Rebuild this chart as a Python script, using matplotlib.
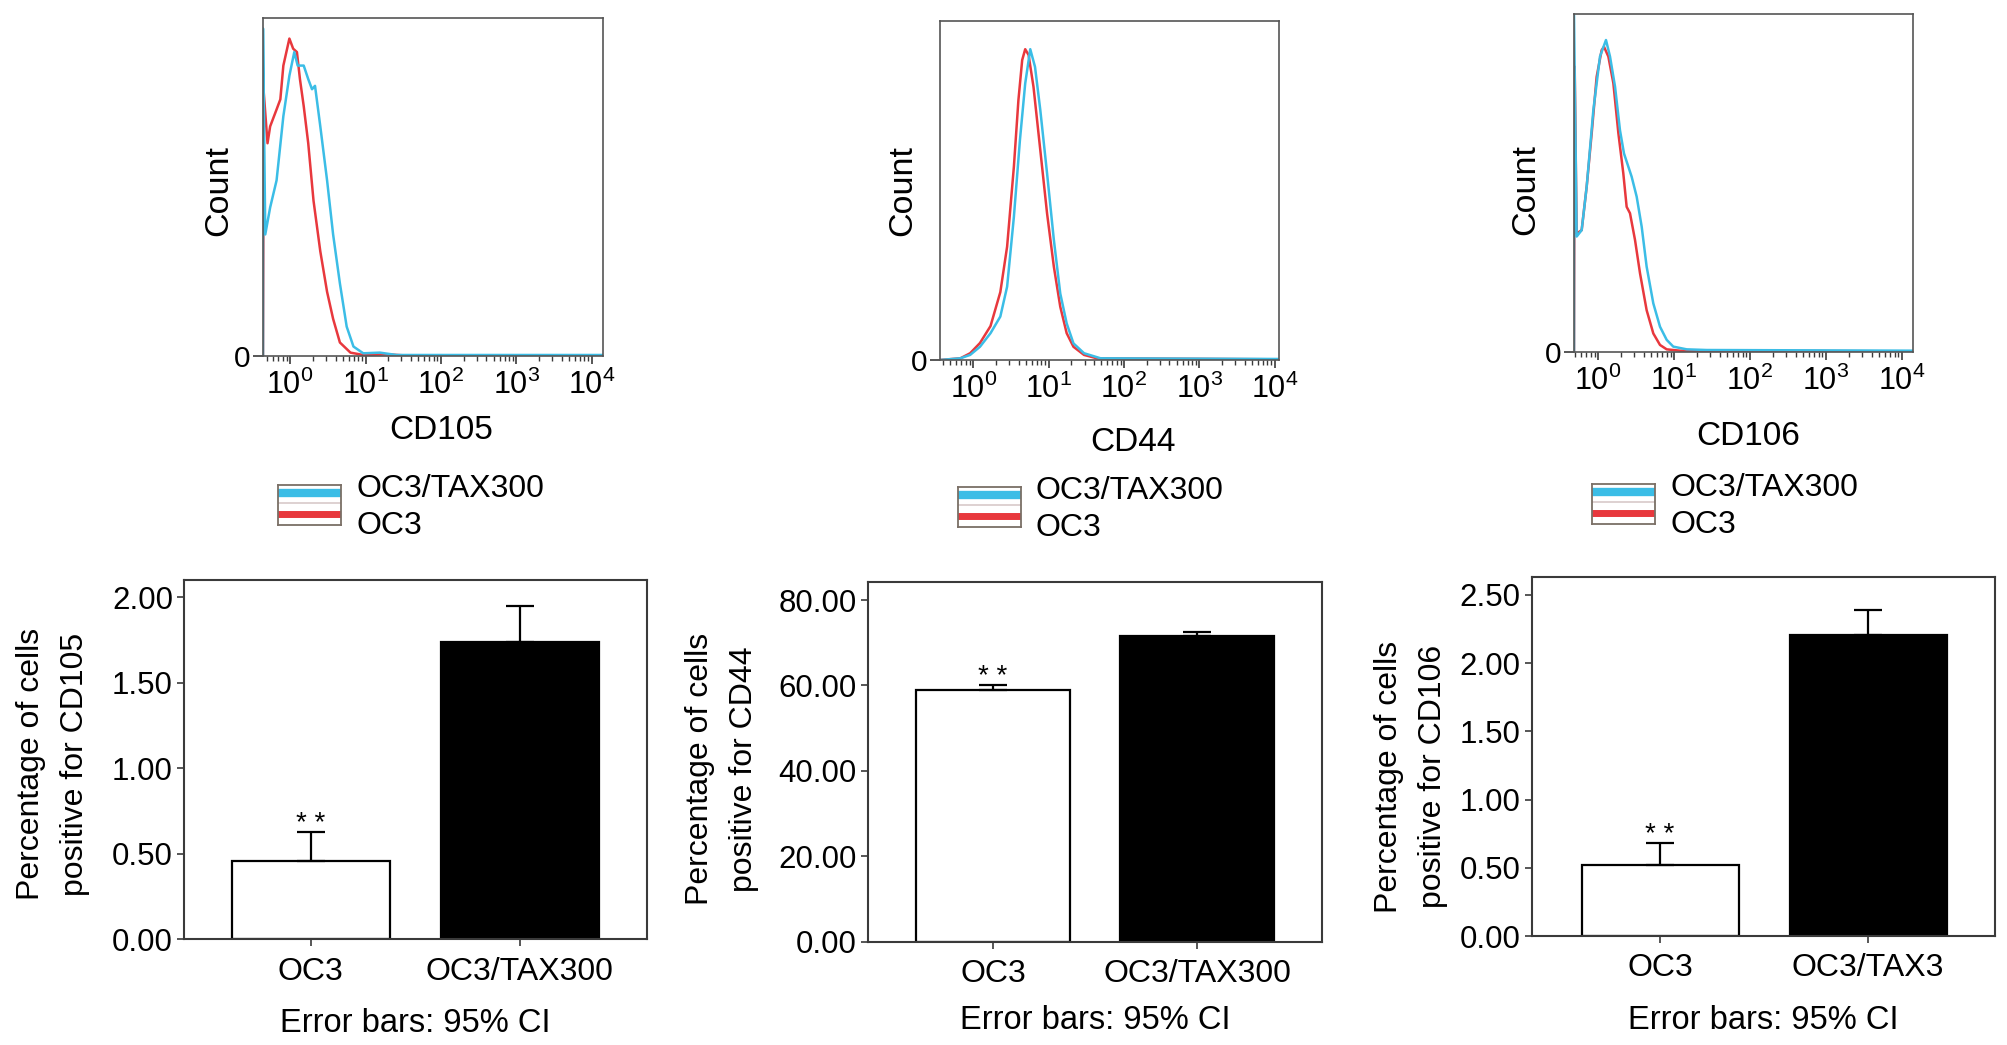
import numpy as np
import matplotlib
matplotlib.use("Agg")
import matplotlib.pyplot as plt
from matplotlib.ticker import FixedLocator, LogLocator, NullFormatter, LogFormatterMathtext, FormatStrFormatter

plt.rcParams['font.family'] = ['Liberation Sans', 'DejaVu Sans']
plt.rcParams['mathtext.fontset'] = 'custom'
plt.rcParams['mathtext.rm'] = 'Liberation Sans'
plt.rcParams['mathtext.it'] = 'Liberation Sans:italic'
plt.rcParams['mathtext.bf'] = 'Liberation Sans:bold'

# ---------------- data: flow histograms (log10 intensity, count as % of axis max) -------------
cd105_oc3_log = [-0.36, -0.35, -0.30, -0.265, -0.18, -0.13, -0.09, -0.04, -0.01, 0.04, 0.09, 0.13,
                 0.18, 0.24, 0.31, 0.40, 0.49, 0.57, 0.66, 0.80, 0.97, 1.28, 1.50, 4.15]
cd105_oc3_cnt = [0, 78, 63, 68, 73, 76, 86, 91, 94, 91, 90, 82,
                 74, 63, 46, 31, 19, 11, 4, 1.0, 0.3, 0.5, 0.2, 0.2]
cd105_tax_log = [-0.36, -0.36, -0.33, -0.265, -0.18, -0.09, -0.01, 0.055, 0.10, 0.18, 0.24, 0.29,
                 0.33, 0.40, 0.49, 0.57, 0.66, 0.75, 0.84, 0.97, 1.19, 1.41, 4.15]
cd105_tax_cnt = [0, 97, 36, 44, 52, 71, 83, 90, 86, 86, 82, 79,
                 80, 68, 52, 36, 21.5, 8.7, 2.8, 0.8, 1.0, 0.3, 0.3]

cd44_oc3_log = [-0.44, -0.17, -0.04, 0.09, 0.23, 0.36, 0.45, 0.54, 0.60, 0.65, 0.69, 0.735,
                0.80, 0.89, 0.98, 1.07, 1.155, 1.24, 1.33, 1.47, 1.64, 4.06]
cd44_oc3_cnt = [0, 0.5, 2, 5, 10, 20, 33.4, 57, 76.6, 88.4, 91.6, 89.9,
                80.5, 61.9, 43.2, 27.5, 15.7, 7.9, 3.9, 1.5, 0.5, 0.2]
cd44_tax_log = [-0.44, -0.17, -0.04, 0.09, 0.23, 0.36, 0.45, 0.54, 0.62, 0.69, 0.757, 0.82,
                0.89, 0.98, 1.07, 1.155, 1.24, 1.33, 1.47, 1.69, 4.06]
cd44_tax_cnt = [0, 0.5, 1.5, 3.9, 7.9, 12.8, 21.6, 42.2, 64.8, 81.5, 91.6, 86.4,
                73.7, 55, 35.4, 19.6, 10.8, 4.9, 2.0, 0.5, 0.3]

cd106_oc3_log = [-0.316, -0.307, -0.281, -0.215, -0.149, -0.083, -0.018, 0.048, 0.079, 0.136, 0.202,
                 0.268, 0.333, 0.377, 0.421, 0.487, 0.553, 0.64, 0.728, 0.816, 0.904, 1.08, 1.34, 4.15]
cd106_oc3_cnt = [0, 84.4, 35, 36, 48.9, 64.7, 81.4, 89.3, 90.3, 87.4, 79.5,
                 64.7, 52.8, 42.9, 41, 33.1, 23.2, 12.3, 5.4, 2.0, 0.7, 0.3, 0.3, 0.1]
cd106_tax_log = [-0.316, -0.316, -0.281, -0.215, -0.149, -0.061, 0.026, 0.105, 0.158, 0.224, 0.289,
                 0.342, 0.443, 0.509, 0.575, 0.64, 0.728, 0.816, 0.904, 0.991, 1.167, 1.43, 4.15]
cd106_tax_cnt = [0, 99.7, 34.1, 36, 48.9, 71.6, 87.4, 92.3, 87.4, 78.5, 65.6,
                 58.7, 51.8, 45.9, 37, 25.2, 14.3, 7.4, 3.5, 1.5, 0.7, 0.5, 0.3]

decade_ticks = [1, 10, 100, 1000, 10000]
legend_labels = ['OC3/TAX300', 'OC3']

# ---------------- data: bar charts -------------
cats_a = ['OC3', 'OC3/TAX300']
cats_b = ['OC3', 'OC3/TAX3']
cd105_means = [0.457, 1.737]
cd105_ci_upper = [0.628, 1.95]
cd44_means = [58.9, 71.7]
cd44_ci_upper = [60.1, 72.6]
cd106_means = [0.52, 2.21]
cd106_ci_upper = [0.684, 2.39]
cd105_yticks = [0, 0.5, 1.0, 1.5, 2.0]
cd44_yticks = [0, 20, 40, 60, 80]
cd106_yticks = [0, 0.5, 1.0, 1.5, 2.0, 2.5]

RED = '#e8383d'
CYAN = '#3bbde6'
SPINE = '#3a3a3a'

W, H = 2008, 1045
fig = plt.figure(figsize=(W / 100, H / 100), dpi=100)


def rect(l, r, t, b):
    return [l / W, 1 - b / H, (r - l) / W, (b - t) / H]


def hist_panel(box, xlim_log, oc3_t, oc3_y, tax_t, tax_y, xlabel, xlab_xy, ylab_xy):
    ax = fig.add_axes(rect(*box))
    ax.set_xscale('log')
    ax.plot(10 ** np.array(oc3_t), oc3_y, color=RED, lw=1.8)
    ax.plot(10 ** np.array(tax_t), tax_y, color=CYAN, lw=1.8)
    ax.set_xlim(10 ** xlim_log[0], 10 ** xlim_log[1])
    ax.set_ylim(0, 100)
    ax.xaxis.set_major_locator(FixedLocator(decade_ticks))
    ax.xaxis.set_major_formatter(LogFormatterMathtext())
    ax.xaxis.set_minor_locator(LogLocator(base=10, subs=np.arange(2, 10), numticks=30))
    ax.xaxis.set_minor_formatter(NullFormatter())
    ax.set_yticks([0])
    ax.set_yticklabels(['0'])
    ax.tick_params(axis='x', which='major', direction='out', length=6, width=1.2,
                   color=SPINE, labelsize=22, pad=4)
    ax.tick_params(axis='x', which='minor', direction='out', length=3.5, width=1.0, color=SPINE)
    ax.tick_params(axis='y', direction='out', length=7, width=1.2, color=SPINE, labelsize=21.5, pad=2)
    for s in ax.spines.values():
        s.set_color('#555555')
        s.set_linewidth(1.2)
    ax.set_xlabel(xlabel, fontsize=24, va='center')
    ax.xaxis.set_label_coords(*xlab_xy)
    ax.set_ylabel('Count', fontsize=24.5, va='center')
    ax.yaxis.set_label_coords(*ylab_xy)
    return ax


def legend_box(box_left, top, text_y1, text_y2):
    lax = fig.add_axes(rect(box_left, box_left + 63, top, top + 40))
    lax.set_xlim(0, 1)
    lax.set_ylim(0, 1)
    lax.axhline(0.79, color=CYAN, lw=6)
    lax.axhline(0.54, color='#d8c9c9', lw=1.2)
    lax.axhline(0.27, color=RED, lw=5)
    lax.set_xticks([])
    lax.set_yticks([])
    for s in lax.spines.values():
        s.set_color('#7a6f66')
        s.set_linewidth(1.3)
    fig.text((box_left + 78) / W, 1 - text_y1 / H, legend_labels[0], fontsize=23, ha='left', va='center')
    fig.text((box_left + 78) / W, 1 - text_y2 / H, legend_labels[1], fontsize=23, ha='left', va='center')


hist_panel((263, 603, 18.3, 356), (-0.36, 4.15), cd105_oc3_log, cd105_oc3_cnt,
           cd105_tax_log, cd105_tax_cnt, 'CD105', (0.525, -0.222), (-0.131, 0.49))
hist_panel((940, 1279.3, 20.7, 360), (-0.44, 4.06), cd44_oc3_log, cd44_oc3_cnt,
           cd44_tax_log, cd44_tax_cnt, 'CD44', (0.569, -0.242), (-0.109, 0.5))
hist_panel((1574, 1913.3, 14, 351.7), (-0.316, 4.15), cd106_oc3_log, cd106_oc3_cnt,
           cd106_tax_log, cd106_tax_cnt, 'CD106', (0.513, -0.25), (-0.142, 0.479))

legend_box(278, 485, 489, 526)
legend_box(958, 487, 491, 528)
legend_box(1592, 484, 488, 525)


def bar_panel(box, xlim, ylim, yticks, means, ci_upper, cats, ylabel, ylab_xy, xlab_y):
    ax = fig.add_axes(rect(*box))
    xs = [0, 1]
    up = [c - m for c, m in zip(ci_upper, means)]
    ax.bar(xs, means, width=0.755, color=['white', 'black'], edgecolor='black', linewidth=1.6,
           yerr=[[0, 0], up], capsize=10,
           error_kw=dict(elinewidth=1.6, capthick=1.6, ecolor='black'))
    ax.annotate('* *', xy=(0, ci_upper[0]), xytext=(0, 0.5), textcoords='offset points',
                ha='center', va='baseline', fontsize=20)
    ax.set_xlim(*xlim)
    ax.set_ylim(*ylim)
    ax.set_xticks(xs)
    ax.set_xticklabels(cats)
    ax.set_yticks(yticks)
    ax.yaxis.set_major_formatter(FormatStrFormatter('%.2f'))
    ax.tick_params(axis='x', direction='out', length=5, width=1.2, color=SPINE, labelsize=23, pad=7.5)
    ax.tick_params(axis='y', direction='out', length=5, width=1.2, color=SPINE, labelsize=22.5, pad=3)
    for s in ax.spines.values():
        s.set_color(SPINE)
        s.set_linewidth(1.5)
    ax.set_ylabel(ylabel, fontsize=23, va='center', linespacing=1.6)
    ax.yaxis.set_label_coords(*ylab_xy)
    ax.set_xlabel('Error bars: 95% CI', fontsize=23.5, va='center')
    ax.xaxis.set_label_coords(0.5, xlab_y)
    return ax


bar_panel((184, 647.5, 580, 939.3), (-0.606, 1.611), (0, 2.10), cd105_yticks,
          cd105_means, cd105_ci_upper, cats_a, 'Percentage of cells\npositive for CD105',
          (-0.283, 0.487), -0.233)
bar_panel((868, 1322, 581.7, 941.7), (-0.611, 1.61), (0, 84.3), cd44_yticks,
          cd44_means, cd44_ci_upper, cats_a, 'Percentage of cells\npositive for CD44',
          (-0.322, 0.48), -0.22)
bar_panel((1531.7, 1995, 576.7, 936), (-0.617, 1.61), (0, 2.634), cd106_yticks,
          cd106_means, cd106_ci_upper, cats_b, 'Percentage of cells\npositive for CD106',
          (-0.26, 0.444), -0.234)

fig.savefig('out.png', dpi=100, facecolor='white')
